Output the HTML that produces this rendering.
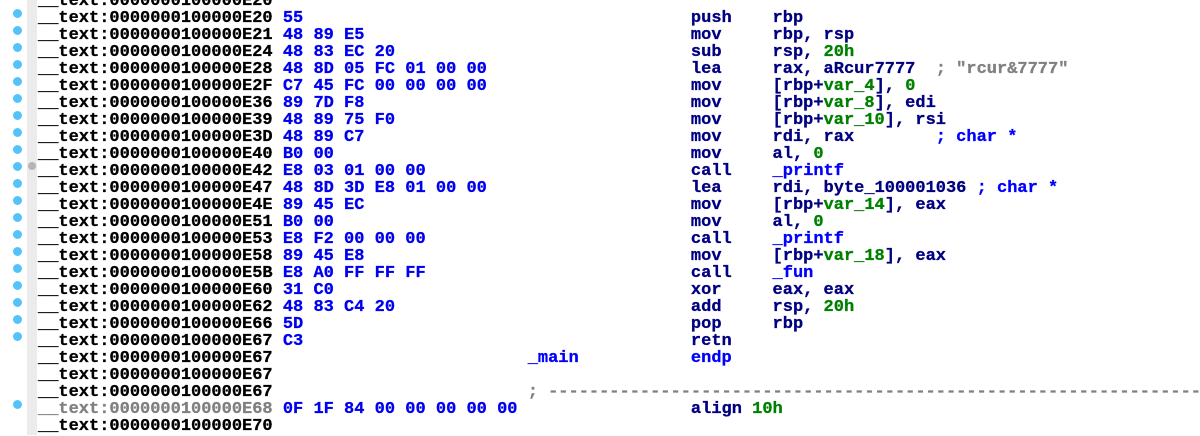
<!DOCTYPE html>
<html><head><meta charset="utf-8">
<style>
html,body{margin:0;padding:0;background:#fff;width:1200px;height:435px;overflow:hidden}
#strip{position:absolute;left:27px;top:0;width:10px;height:435px;background:#ebebeb}
.d{position:absolute;width:9px;height:9px;border-radius:50%;background:#54c3f9;left:12.5px}
#g{position:absolute;left:27.5px;top:161.5px;width:8px;height:8px;border-radius:50%;background:#b5b5b5}
pre{position:absolute;left:38px;top:-7px;margin:0;font:bold 17px/17px "Liberation Mono",monospace;color:#000;white-space:pre;-webkit-text-stroke:.3px;filter:blur(.3px)}
.b{color:#0000f0}.n{color:#000080}.v{color:#008000}.c{color:#808080}.u{color:#0000ff}
</style></head><body>
<div id="strip"></div><div id="g"></div>
<div class="d" style="top:8.5px"></div><div class="d" style="top:25.5px"></div><div class="d" style="top:42.5px"></div><div class="d" style="top:59.5px"></div><div class="d" style="top:76.5px"></div><div class="d" style="top:93.5px"></div><div class="d" style="top:110.5px"></div><div class="d" style="top:127.5px"></div><div class="d" style="top:144.5px"></div><div class="d" style="top:161.5px"></div><div class="d" style="top:178.5px"></div><div class="d" style="top:195.5px"></div><div class="d" style="top:212.5px"></div><div class="d" style="top:229.5px"></div><div class="d" style="top:246.5px"></div><div class="d" style="top:263.5px"></div><div class="d" style="top:280.5px"></div><div class="d" style="top:297.5px"></div><div class="d" style="top:314.5px"></div><div class="d" style="top:331.5px"></div><div class="d" style="top:399.5px"></div>
<pre>__text:0000000100000E20
__text:0000000100000E20 <span class="b">55</span>                                      <span class="n">push    rbp</span>
__text:0000000100000E21 <span class="b">48 89 E5</span>                                <span class="n">mov     rbp, rsp</span>
__text:0000000100000E24 <span class="b">48 83 EC 20</span>                             <span class="n">sub     rsp, </span><span class="v">20h</span>
__text:0000000100000E28 <span class="b">48 8D 05 FC 01 00 00</span>                    <span class="n">lea     rax, aRcur7777</span>  <span class="c">; "rcur&amp;7777"</span>
__text:0000000100000E2F <span class="b">C7 45 FC 00 00 00 00</span>                    <span class="n">mov     [rbp+</span><span class="v">var_4</span><span class="n">], </span><span class="v">0</span>
__text:0000000100000E36 <span class="b">89 7D F8</span>                                <span class="n">mov     [rbp+</span><span class="v">var_8</span><span class="n">], edi</span>
__text:0000000100000E39 <span class="b">48 89 75 F0</span>                             <span class="n">mov     [rbp+</span><span class="v">var_10</span><span class="n">], rsi</span>
__text:0000000100000E3D <span class="b">48 89 C7</span>                                <span class="n">mov     rdi, rax</span>        <span class="u">; char *</span>
__text:0000000100000E40 <span class="b">B0 00</span>                                   <span class="n">mov     al, </span><span class="v">0</span>
__text:0000000100000E42 <span class="b">E8 03 01 00 00</span>                          <span class="n">call    </span><span class="u">_printf</span>
__text:0000000100000E47 <span class="b">48 8D 3D E8 01 00 00</span>                    <span class="n">lea     rdi, byte_100001036</span> <span class="u">; char *</span>
__text:0000000100000E4E <span class="b">89 45 EC</span>                                <span class="n">mov     [rbp+</span><span class="v">var_14</span><span class="n">], eax</span>
__text:0000000100000E51 <span class="b">B0 00</span>                                   <span class="n">mov     al, </span><span class="v">0</span>
__text:0000000100000E53 <span class="b">E8 F2 00 00 00</span>                          <span class="n">call    </span><span class="u">_printf</span>
__text:0000000100000E58 <span class="b">89 45 E8</span>                                <span class="n">mov     [rbp+</span><span class="v">var_18</span><span class="n">], eax</span>
__text:0000000100000E5B <span class="b">E8 A0 FF FF FF</span>                          <span class="n">call    </span><span class="u">_fun</span>
__text:0000000100000E60 <span class="b">31 C0</span>                                   <span class="n">xor     eax, eax</span>
__text:0000000100000E62 <span class="b">48 83 C4 20</span>                             <span class="n">add     rsp, </span><span class="v">20h</span>
__text:0000000100000E66 <span class="b">5D</span>                                      <span class="n">pop     rbp</span>
__text:0000000100000E67 <span class="b">C3</span>                                      <span class="n">retn</span>
__text:0000000100000E67                         <span class="u">_main</span>           <span class="u">endp</span>
__text:0000000100000E67
__text:0000000100000E67                         <span class="c">; ----------------------------------------------------------------</span>
<span class="c">__text:0000000100000E68</span> <span class="b">0F 1F 84 00 00 00 00 00</span>                 <span class="n">align </span><span class="v">10h</span>
__text:0000000100000E70</pre>
</body></html>
